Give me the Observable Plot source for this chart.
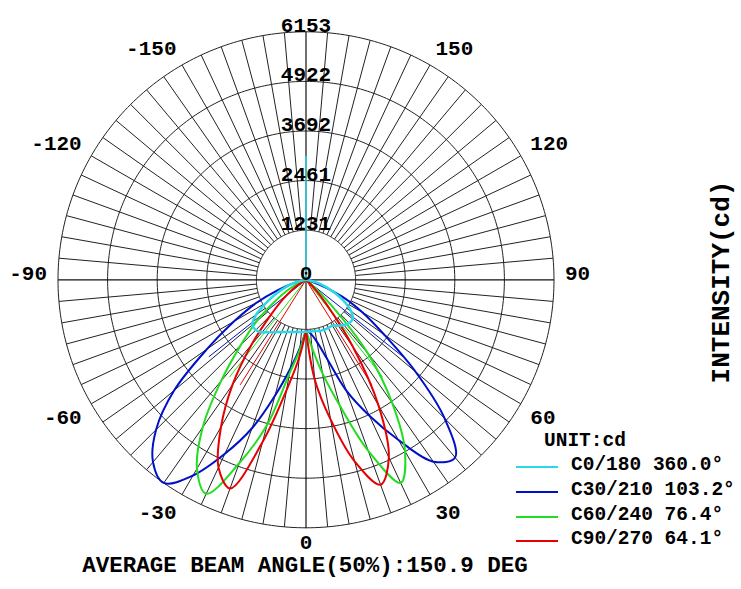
<!DOCTYPE html>
<html><head><meta charset="utf-8">
<script src="https://cdn.jsdelivr.net/npm/d3@7"></script>
<script src="https://cdn.jsdelivr.net/npm/@observablehq/plot@0.6"></script>
<style>
html,body{margin:0;padding:0;background:#fff;}
#wrap{position:relative;width:741px;height:589px;overflow:hidden;font-family:"Liberation Mono","Courier New",monospace;font-weight:bold;color:#000;}
#wrap svg{position:absolute;left:0;top:0;}
.abs{position:absolute;white-space:pre;line-height:0.7;transform:translate(0,-50%);}
.sw{position:absolute;height:2px;width:42px;}
</style></head><body><div id="wrap"></div>
<script>
// ---- data (candela) ----
const maxIntensity = 6153;
const ringLabels = ["0", "1231", "2461", "3692", "4922", "6153"];
const angleTicks = [-150, -120, -90, -60, -30, 0, 30, 60, 90, 120, 150];
const gammas = [0, 5, 10, 15, 20, 25, 30, 35, 40, 45, 50, 55, 60, 65, 70, 75, 80, 85, 90];

const seriesNames = ["C0/180", "C30/210", "C60/240", "C90/270"];
const beamAngles = [360.0, 103.2, 76.4, 64.1];
const seriesColors = ["#2ad8e6", "#0010c8", "#22dd22", "#e60000"];

// right half (C0, C30, C60, C90) and left half (C180, C210, C240, C270)
const c0   = [1290, 1290, 1290, 1315, 1315, 1315, 1315, 1389, 1464, 1513, 1513, 1365, 1116, 819, 546, 298, 124, 0];
const c180 = [1290, 1302, 1315, 1340, 1377, 1427, 1501, 1588, 1700, 1762, 1737, 1513, 1141, 819, 546, 298, 124, 0];
const c30  = [1250, 1340, 1563, 2034, 2928, 3722, 4590, 5508, 5756, 4863, 3548, 2357, 1613, 992, 347, 0];
const c210 = [1250, 1687, 2233, 2977, 3920, 4764, 5607, 6153, 5905, 5260, 4267, 3002, 2059, 1365, 744, 298, 0];
const c60  = [1250, 1687, 2357, 3225, 4515, 5557, 4912, 3722, 2407, 868, 124, 0];
const c240 = [1250, 1737, 2357, 3722, 4838, 5855, 5409, 4466, 3275, 2283, 1588, 968, 546, 248, 0];
const c90  = [1250, 2481, 3523, 4664, 5409, 4863, 3597, 2034, 794, 248, 0];
const c270 = [1250, 1935, 2779, 4168, 5508, 5136, 4218, 3176, 2109, 1240, 744, 372, 124, 0];

// ---- geometry helpers ----
const W = 741, H = 589, cx = 305.5, cy = 279.3, pxR = 248;
const s = maxIntensity / pxR;
const rad = g => g * Math.PI / 180;
const X = (r, g) => r * Math.sin(rad(g));
const Y = (r, g) => -r * Math.cos(rad(g));

const ringStep = maxIntensity / 5;
const rings = d3.range(1, 6).map(i => i * ringStep);
const ringPts = rings.flatMap(r => d3.range(0, 361, 1).map(a => ({r, a})));
const spokes = d3.range(-175, 181, 5).filter(a => a % 90 !== 0).map(a => ({a}));

const halves = [[c0, c180], [c30, c210], [c60, c240], [c90, c270]];
const curveRows = [];
halves.forEach(([right, left], i) => {
  right.forEach((v, j) => curveRows.push({name: seriesNames[i], side: "R", g: gammas[j], v}));
  left.forEach((v, j) => curveRows.push({name: seriesNames[i], side: "L", g: -gammas[j], v}));
});
const beamRows = [];
beamAngles.forEach((b, i) => {
  beamRows.push({name: seriesNames[i], g: b / 2});
  beamRows.push({name: seriesNames[i], g: -b / 2});
});
const halfI = maxIntensity / 2;
const labR = maxIntensity * 259 / pxR;
const ringLabelRows = ringLabels.map((t, i) => ({t, r: i * ringStep}));
const ang = angleTicks.map(a => ({a}));

const txt = (data, opts) => Plot.text(data, {
  x: d => X(labR, d.a), y: d => Y(labR, d.a), text: d => String(d.a),
  fontSize: 21, fontWeight: "bold", ...opts
});
const lobes = curveRows.filter(d => d.name !== seriesNames[0]);
const cyanRows = curveRows.filter(d => d.name === seriesNames[0]);

const plot = Plot.plot({
  width: W, height: H, margin: 0,
  x: {domain: [-cx * s, (W - cx) * s], axis: null},
  y: {domain: [-(H - cy) * s, cy * s], axis: null},
  color: {domain: seriesNames, range: seriesColors},
  style: {fontFamily: "'Liberation Mono', 'Courier New', monospace", background: "white", overflow: "visible"},
  marks: [
    Plot.line(ringPts, {x: d => X(d.r, d.a), y: d => Y(d.r, d.a), z: "r", stroke: "#222", strokeWidth: 1}),
    Plot.link(spokes, {x1: d => X(rings[0], d.a), y1: d => Y(rings[0], d.a), x2: d => X(maxIntensity, d.a), y2: d => Y(maxIntensity, d.a), stroke: "#222", strokeWidth: 1}),
    Plot.link([0, 90], {x1: a => X(-maxIntensity, a), y1: a => Y(-maxIntensity, a), x2: a => X(maxIntensity, a), y2: a => Y(maxIntensity, a), stroke: "#111", strokeWidth: 1.2}),
    Plot.link(beamRows, {x1: 0, y1: 0, x2: d => X(halfI, d.g), y2: d => Y(halfI, d.g), stroke: "name", strokeWidth: 1}),
    Plot.line(lobes, {x: d => X(d.v, d.g), y: d => Y(d.v, d.g), z: d => d.name + d.side, stroke: "name", strokeWidth: 2, curve: "catmull-rom"}),
    Plot.line(cyanRows, {x: d => X(d.v, d.g), y: d => Y(d.v, d.g), z: d => d.name + d.side, stroke: "name", strokeWidth: 2.5, curve: "catmull-rom"}),
    Plot.text(ringLabelRows, {x: 0, y: d => d.r, text: "t", lineAnchor: "bottom", fontSize: 21, fontWeight: "bold"}),
    txt(ang.filter(d => d.a > 0 && d.a < 90), {textAnchor: "start", lineAnchor: "top"}),
    txt(ang.filter(d => d.a >= 90), {textAnchor: "start", lineAnchor: "bottom"}),
    txt(ang.filter(d => d.a < 0 && d.a > -90), {textAnchor: "end", lineAnchor: "top"}),
    txt(ang.filter(d => d.a <= -90), {textAnchor: "end", lineAnchor: "bottom"}),
    txt(ang.filter(d => d.a === 0), {textAnchor: "middle", lineAnchor: "top", dy: -5})
  ]
});
const wrap = document.getElementById("wrap");
wrap.appendChild(plot);

function addText(t, left, top, size, extra) {
  const d = document.createElement("div");
  d.className = "abs"; d.textContent = t;
  d.style.left = left + "px"; d.style.top = top + "px"; d.style.fontSize = size + "px";
  if (extra) Object.assign(d.style, extra);
  wrap.appendChild(d);
  return d;
}
addText("AVERAGE BEAM ANGLE(50%):150.9 DEG", 305, 567, 22.5, {transform: "translate(-50%,-50%)"});
addText("INTENSITY(cd)", 721.5, 281.5, 26, {transform: "translate(-50%,-50%) rotate(-90deg)"});
addText("UNIT:cd", 544, 441.7, 19.5);
seriesNames.forEach((n, i) => {
  const yc = 467 + i * 24.8;
  const sw = document.createElement("div");
  sw.className = "sw"; sw.style.left = "516px"; sw.style.top = (yc - 1) + "px"; sw.style.background = seriesColors[i];
  wrap.appendChild(sw);
  addText(n + " " + beamAngles[i].toFixed(1) + "°", 571, yc - 1, 19.5);
});
</script></body></html>
